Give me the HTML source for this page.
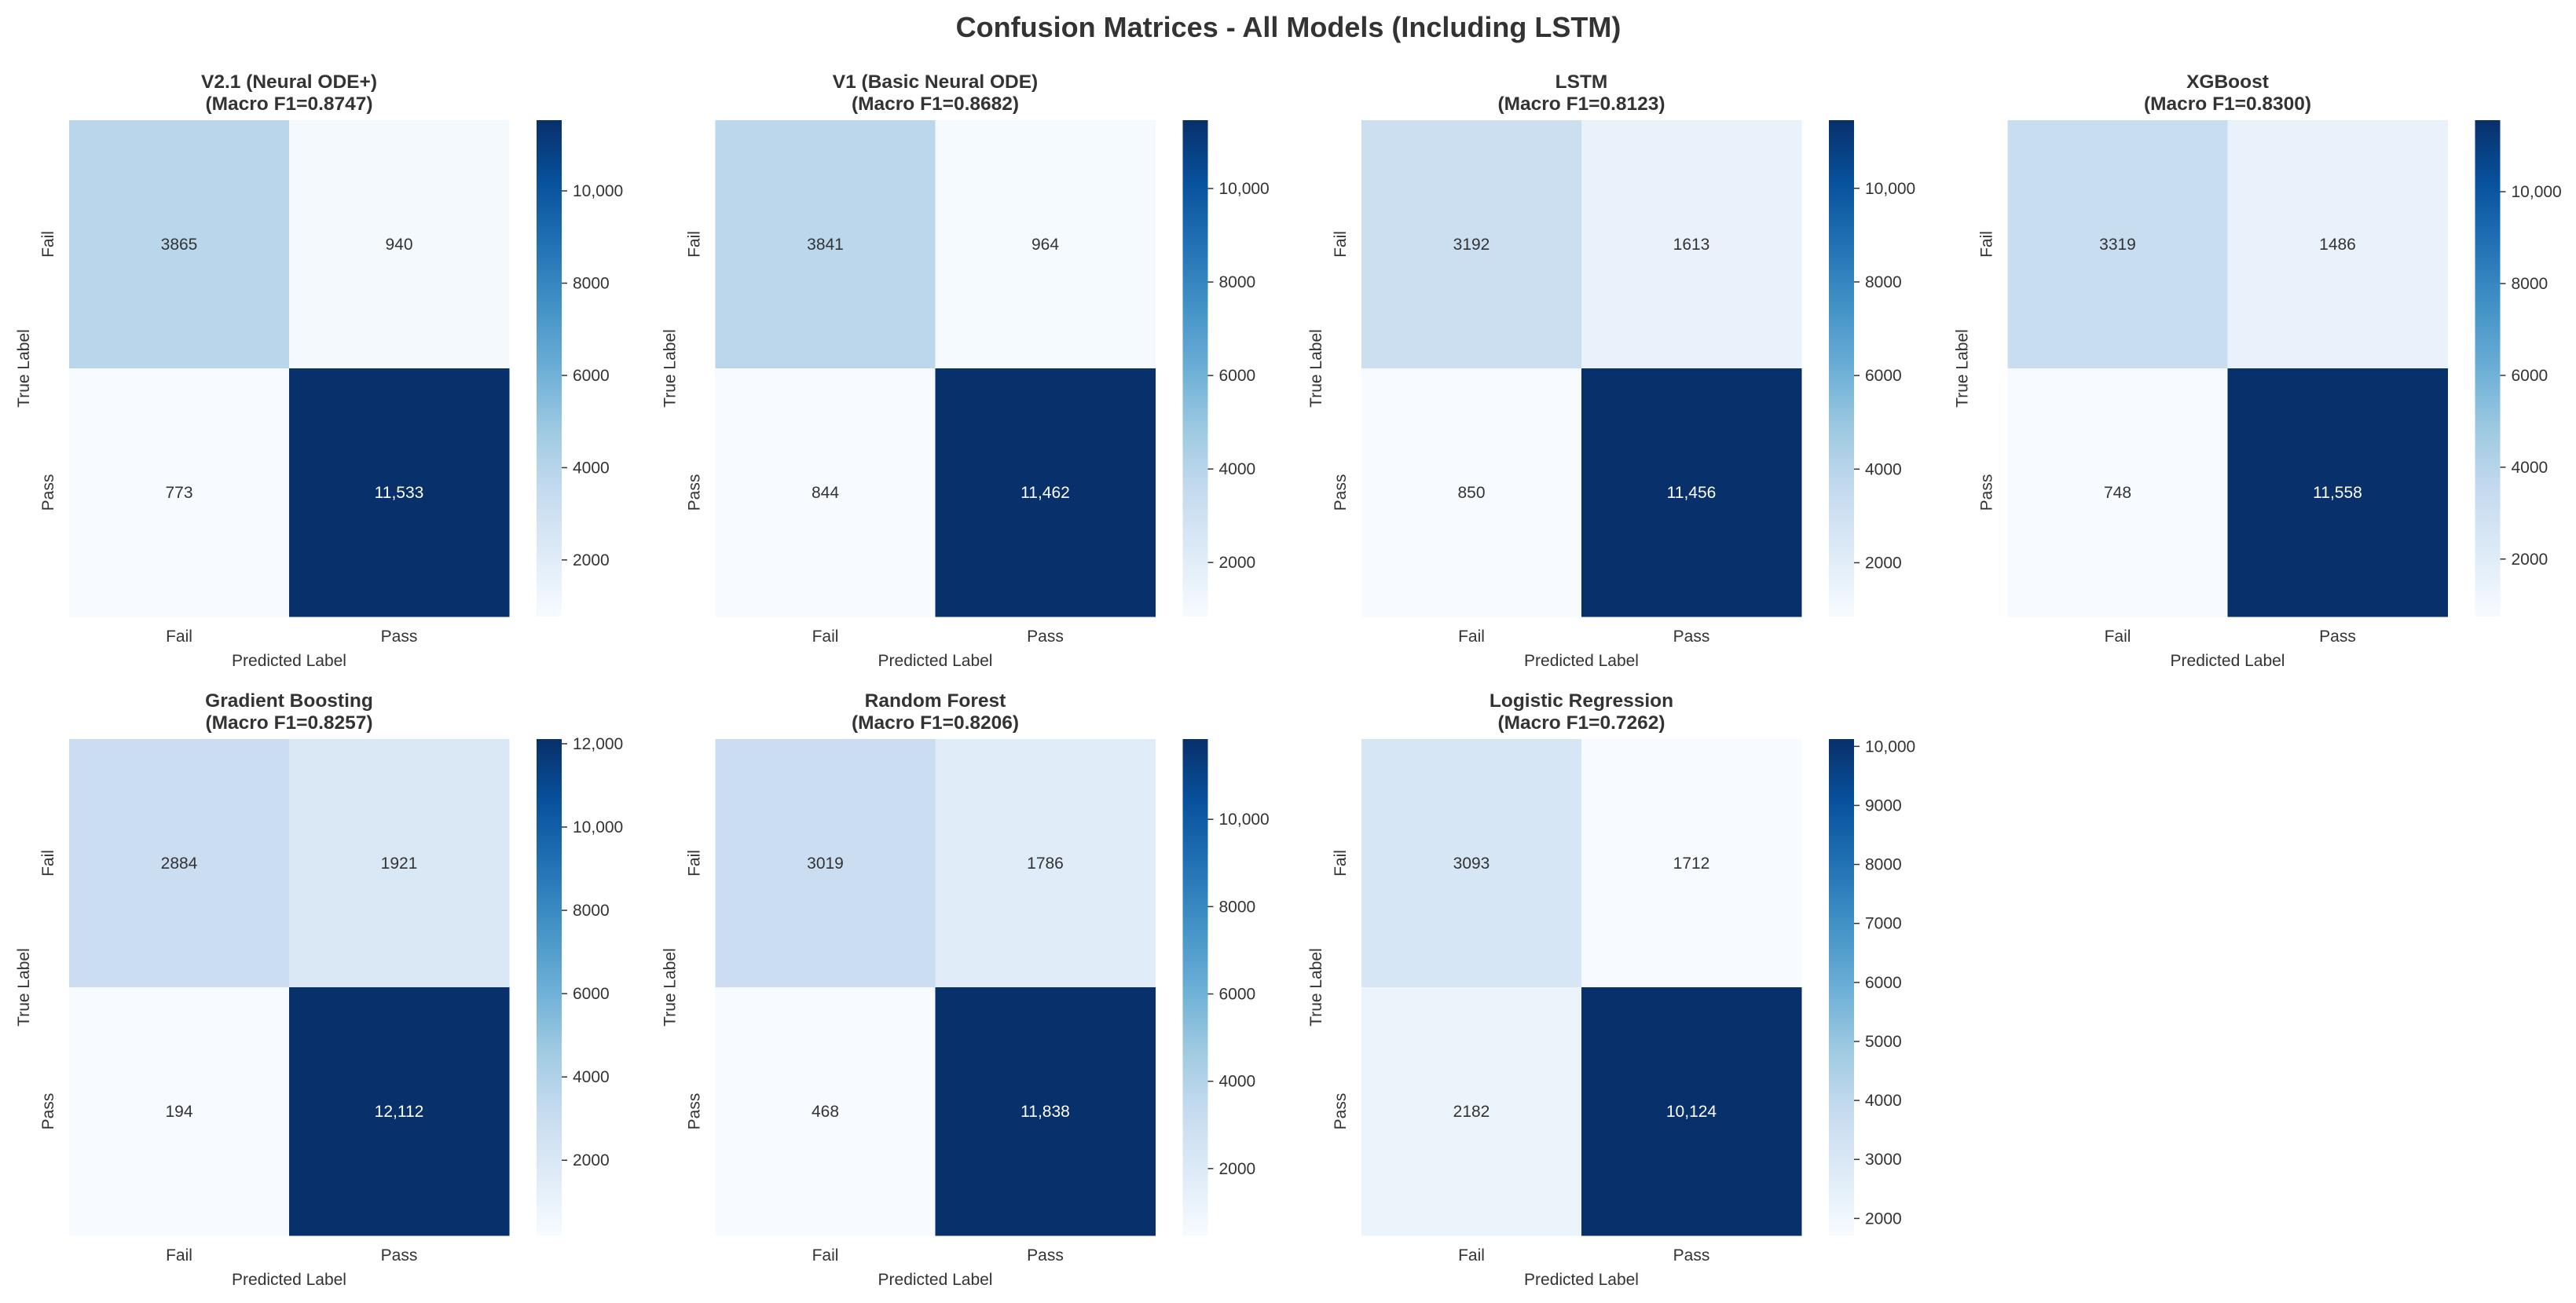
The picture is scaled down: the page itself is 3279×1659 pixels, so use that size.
<!DOCTYPE html>
<html><head><meta charset="utf-8">
<style>
html,body{margin:0;padding:0;background:#fff;}
svg{display:block;font-family:"Liberation Sans",Arial,sans-serif;}
</style></head>
<body>
<svg id="fig" width="3279" height="1659" viewBox="0 0 3279 1659" xmlns="http://www.w3.org/2000/svg">
<rect width="3279" height="1659" fill="#fff"/>
<text x="1640" y="47" text-anchor="middle" font-size="36" font-weight="bold" fill="#333">Confusion Matrices - All Models (Including LSTM)</text>
</svg>
<script>
const modelNames = ["V2.1 (Neural ODE+)","V1 (Basic Neural ODE)","LSTM","XGBoost","Gradient Boosting","Random Forest","Logistic Regression"];
const macroF1 = ["0.8747","0.8682","0.8123","0.8300","0.8257","0.8206","0.7262"];
const classLabels = ["Fail","Pass"];
const cellTP_FF = [3865,3841,3192,3319,2884,3019,3093];
const cellFailPass = [940,964,1613,1486,1921,1786,1712];
const cellPassFail = [773,844,850,748,194,468,2182];
const cellPassPass = [11533,11462,11456,11558,12112,11838,10124];
const cbarTicks = [
  [2000,4000,6000,8000,10000],
  [2000,4000,6000,8000,10000],
  [2000,4000,6000,8000,10000],
  [2000,4000,6000,8000,10000],
  [2000,4000,6000,8000,10000,12000],
  [2000,4000,6000,8000,10000],
  [2000,3000,4000,5000,6000,7000,8000,9000,10000]
];

const NS="http://www.w3.org/2000/svg";
const svg=document.getElementById('fig');
const blues=["#f7fbff","#deebf7","#c6dbef","#9ecae1","#6baed6","#4292c6","#2171b5","#08519c","#08306b"];
function hex(h){return [parseInt(h.slice(1,3),16),parseInt(h.slice(3,5),16),parseInt(h.slice(5,7),16)];}
function cmap(t){t=Math.max(0,Math.min(1,t));const p=t*(blues.length-1);const i=Math.min(Math.floor(p),blues.length-2);const f=p-i;const a=hex(blues[i]),b=hex(blues[i+1]);
  return "rgb("+a.map((v,k)=>Math.round(v+(b[k]-v)*f)).join(",")+")";}
function fmt(v){return v>=10000?v.toLocaleString('en-US'):String(v);}
function mk(tag,attrs,parent){const e=document.createElementNS(NS,tag);for(const k in attrs)e.setAttribute(k,attrs[k]);(parent||svg).appendChild(e);return e;}
const defs=mk('defs',{});
const grad=mk('linearGradient',{id:'bluesGrad',x1:'0',y1:'1',x2:'0',y2:'0'},defs);
blues.forEach((c,i)=>mk('stop',{offset:(i/(blues.length-1)).toFixed(3),'stop-color':c},grad));

const colX=[88,910.5,1733,2555.5];
const rowY=[153,941];
const W=560,H=632;
const txt="#333";
for(let m=0;m<modelNames.length;m++){
  const x0=colX[m%4], y0=rowY[Math.floor(m/4)];
  const g=mk('g',{});
  
  
  const mat=[[cellTP_FF[m],cellFailPass[m]],[cellPassFail[m],cellPassPass[m]]];
  const all=mat.flat();const vmin=Math.min(...all),vmax=Math.max(...all);
  const norm=v=>(v-vmin)/(vmax-vmin);
  let t=mk('text',{x:x0+W/2,y:y0-41,'text-anchor':'middle','font-size':24.5,'font-weight':'bold',fill:txt},g);
  t.textContent=modelNames[m];
  
  
  t=mk('text',{x:x0+W/2,y:y0-13,'text-anchor':'middle','font-size':24.5,'font-weight':'bold',fill:txt},g);
  t.textContent="(Macro F1="+macroF1[m]+")";
  
  
  const cw=W/2,ch=H/2;
  for(let r=0;r<2;r++)for(let c=0;c<2;c++){
    const v=mat[r][c];
    const rc=mk('rect',{x:x0+c*cw,y:y0+r*ch,width:cw+0.5,height:ch+0.5,fill:cmap(norm(v))},g);
    
    
    const tt=mk('text',{x:x0+c*cw+cw/2,y:y0+r*ch+ch/2+7,'text-anchor':'middle','font-size':21,fill:norm(v)>0.6?'#fff':txt},g);
    tt.textContent=fmt(v);
    
    
  }
  for(let i=0;i<2;i++){
    let xt=mk('text',{x:x0+cw*i+cw/2,y:y0+H+32,'text-anchor':'middle','font-size':21,fill:txt},g);
    xt.textContent=classLabels[i];
    
    
    const yy=y0+ch*i+ch/2;
    let yt=mk('text',{x:0,y:0,'text-anchor':'middle','font-size':21,fill:txt,transform:'translate('+(x0-20)+','+yy+') rotate(-90)'},g);
    yt.textContent=classLabels[i];
    
    
  }
  let xl=mk('text',{x:x0+W/2,y:y0+H+63,'text-anchor':'middle','font-size':21,fill:txt},g);
  xl.textContent="Predicted Label";
  
  
  let yl=mk('text',{x:0,y:0,'text-anchor':'middle','font-size':21,fill:txt,transform:'translate('+(x0-51)+','+(y0+H/2)+') rotate(-90)'},g);
  yl.textContent="True Label";
  
  
  const cx=x0+595, cbw=32;
  const cb=mk('rect',{x:cx,y:y0,width:cbw,height:H,fill:'url(#bluesGrad)'},g);
  
  
  cbarTicks[m].forEach(tv=>{
    const ty=y0+H-norm(tv)*H;
    mk('line',{x1:cx+cbw,x2:cx+cbw+7,y1:ty,y2:ty,stroke:txt,'stroke-width':1.5},g);
    const lt=mk('text',{x:cx+cbw+14,y:ty+7,'font-size':21,fill:txt},g);
    lt.textContent=fmt(tv);
    
    
  });
}
</script>
</body></html>
